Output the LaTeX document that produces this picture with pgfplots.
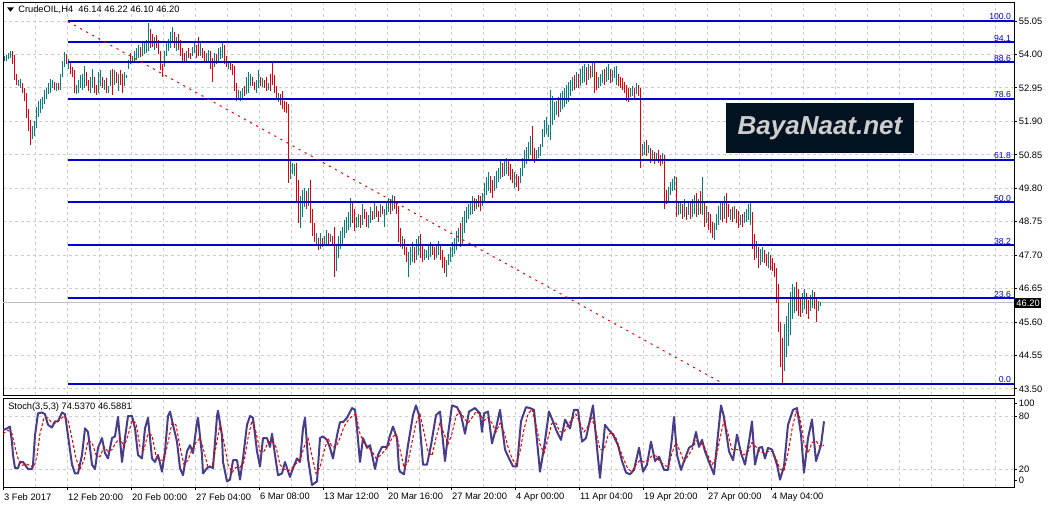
\documentclass[border=0pt]{standalone}
\usepackage{pgfplots}
\usepackage{pgfplotstable}
\pgfplotsset{compat=1.18}
\usepackage{fontspec}
\setmainfont{Liberation Sans}
\definecolor{bull}{RGB}{0,128,128}
\definecolor{bear}{RGB}{232,0,0}
\definecolor{fib}{RGB}{0,0,205}
\definecolor{gridc}{RGB}{205,205,205}
\definecolor{stochc}{RGB}{72,61,139}
\definecolor{logobg}{RGB}{3,18,32}
\newcommand\tk{\fontsize{7}{8.4}\selectfont}

\pgfplotstableread{
x lo hi c
4 53.78 53.95 1
6 53.80 53.98 1
8 53.85 54.05 1
10 53.90 54.12 1
12 53.70 54.10 0
14 53.20 53.98 0
16 53.05 53.40 0
18 53.00 53.20 1
20 52.95 53.22 1
22 52.80 53.10 0
24 52.55 52.95 0
26 52.00 52.80 0
28 51.60 52.30 0
30 51.16 51.95 0
32 51.35 51.75 1
34 51.45 51.90 1
36 51.70 52.35 1
38 52.05 52.55 1
40 52.15 52.60 1
42 52.30 52.65 1
44 52.45 52.90 1
46 52.60 52.95 1
48 52.75 53.10 1
50 52.80 53.22 1
52 52.95 53.20 1
54 52.90 53.15 0
56 52.85 53.12 1
58 52.90 53.10 0
60 52.88 53.40 1
62 53.30 53.78 1
64 53.60 54.08 1
66 53.70 54.00 0
68 53.55 53.85 1
70 53.40 53.80 0
72 53.30 53.62 0
74 52.80 53.50 0
76 52.75 53.05 1
78 52.80 53.20 1
80 52.95 53.35 1
82 52.90 53.40 1
84 52.95 53.65 1
86 53.00 53.45 0
88 52.85 53.20 0
90 52.80 53.30 1
92 52.95 53.55 1
94 52.80 53.30 0
96 52.72 53.05 0
98 52.80 53.45 1
100 53.00 53.52 1
102 52.95 53.30 0
104 52.90 53.20 1
106 52.80 53.25 0
108 52.78 53.00 1
110 53.00 53.50 1
112 52.72 53.55 0
114 53.05 53.52 1
116 53.10 53.45 0
118 52.85 53.40 1
120 53.05 53.50 0
122 52.80 53.40 0
124 53.00 53.45 1
126 53.25 53.35 1
128 53.55 53.82 1
130 53.70 54.05 0
132 53.75 53.95 1
134 53.80 54.10 1
136 53.85 54.20 1
138 53.90 54.30 1
140 53.92 54.25 0
142 53.95 54.35 1
144 54.00 54.40 1
146 54.05 54.45 1
148 54.10 55.00 1
150 54.20 54.80 0
152 54.25 54.65 0
154 54.15 54.55 1
156 54.20 54.60 0
158 54.00 54.45 0
160 53.50 54.10 0
162 53.28 53.70 0
164 53.60 54.10 1
166 53.95 54.40 1
168 54.10 54.50 1
170 54.20 54.70 1
172 54.35 54.86 1
174 54.20 54.70 0
176 54.10 54.55 1
178 54.15 54.65 0
180 53.95 54.45 0
182 53.80 54.20 0
184 53.75 54.05 0
186 53.80 54.10 1
188 53.90 54.20 0
190 53.85 54.05 0
192 53.95 54.25 1
194 54.05 54.35 1
196 53.90 54.30 0
198 53.95 54.55 0
200 53.95 54.40 1
202 53.90 54.20 0
204 53.80 54.10 0
206 53.75 54.05 1
208 53.80 54.15 1
210 53.55 54.10 0
212 53.14 53.90 0
214 53.60 54.05 1
216 53.70 54.00 0
218 53.75 54.20 1
220 53.85 54.25 1
222 53.90 54.39 1
224 53.70 54.30 0
226 53.60 53.95 0
228 53.55 53.80 1
230 53.50 53.75 0
232 53.35 53.70 0
234 52.85 53.65 0
236 52.55 53.10 0
238 52.60 52.90 1
240 52.55 52.85 1
242 52.60 52.95 1
244 52.70 53.00 0
246 52.75 53.30 1
248 52.80 53.45 1
250 53.00 53.40 1
252 53.00 53.30 0
254 52.90 53.15 0
256 52.80 53.20 1
258 52.95 53.50 1
260 53.00 53.30 0
262 52.98 53.25 1
264 52.95 53.20 0
266 52.85 53.30 0
268 52.90 53.10 1
270 52.85 53.40 0
272 53.05 53.75 0
274 52.80 53.35 0
276 52.60 53.00 0
278 52.50 52.80 1
280 52.40 52.75 0
282 52.30 52.85 0
284 52.20 52.55 0
286 52.15 52.50 0
288 49.97 52.45 0
290 50.10 50.70 1
292 50.25 50.60 1
294 50.20 50.55 1
296 49.40 50.60 0
298 48.70 50.05 0
300 48.55 49.55 1
302 48.90 49.75 1
304 49.20 49.80 1
306 49.15 49.70 0
308 49.25 49.80 1
310 48.70 50.05 0
312 48.30 49.15 0
314 48.10 48.70 0
316 48.00 48.40 1
318 47.85 48.25 0
320 47.90 48.40 1
322 47.95 48.25 0
324 48.00 48.30 1
326 47.98 48.50 1
328 48.05 48.40 0
330 48.10 48.35 1
332 48.05 48.30 0
334 47.00 48.60 0
336 47.20 48.05 1
338 47.60 48.30 1
340 47.90 48.45 1
342 48.05 48.60 1
344 48.25 48.80 1
346 48.40 48.90 1
348 48.50 49.05 1
350 48.60 49.50 1
352 48.70 49.40 0
354 48.45 49.15 0
356 48.55 48.90 1
358 48.60 49.00 1
360 48.55 48.95 0
362 48.65 49.30 1
364 48.85 49.15 0
366 48.60 49.05 0
368 48.55 48.95 1
370 48.70 49.20 1
372 48.80 49.10 0
374 48.85 49.35 1
376 48.90 49.25 0
378 48.75 49.10 0
380 48.90 49.30 1
382 49.00 49.25 0
384 48.60 49.15 1
386 48.95 49.35 1
388 49.05 49.50 1
390 49.00 49.45 0
392 49.10 49.60 1
394 49.15 49.55 0
396 49.00 49.40 0
398 48.12 49.25 0
400 47.95 48.55 0
402 47.90 48.30 1
404 47.70 48.20 0
406 47.50 47.95 0
408 47.00 47.80 1
410 47.40 47.95 1
412 47.50 48.10 1
414 47.45 47.95 0
416 47.55 48.20 1
418 47.70 48.30 1
420 47.60 48.35 0
422 47.50 48.05 0
424 47.55 47.90 1
426 47.60 47.85 1
428 47.55 48.00 1
430 47.65 48.10 1
432 47.70 48.05 0
434 47.55 47.95 0
436 47.60 48.00 1
438 47.70 48.15 1
440 47.55 48.05 0
442 47.30 47.85 0
444 47.15 47.65 0
446 47.01 47.55 1
448 47.40 47.75 1
450 47.50 47.95 1
452 47.65 48.10 1
454 47.75 48.25 1
456 47.85 48.45 1
458 48.10 48.55 1
460 47.95 48.70 0
462 48.05 48.90 1
464 48.40 49.10 1
466 48.70 49.20 1
468 48.85 49.30 1
470 48.95 49.40 1
472 49.00 49.55 1
474 49.10 49.50 0
476 49.15 49.45 1
478 49.20 49.60 0
480 49.10 49.55 0
482 49.25 49.65 1
484 49.40 49.95 1
486 49.60 50.15 1
488 49.70 50.30 1
490 49.65 50.20 0
492 49.50 50.05 0
494 49.70 50.20 1
496 49.80 50.35 1
498 50.00 50.45 1
500 50.10 50.65 1
502 50.15 50.60 0
504 50.20 50.70 1
506 50.25 50.75 1
508 50.20 50.70 0
510 50.05 50.55 0
512 49.95 50.40 0
514 49.80 50.30 1
516 49.85 50.25 0
518 49.70 50.20 0
520 49.95 50.45 1
522 50.20 50.75 1
524 50.45 51.00 1
526 50.55 51.10 1
528 50.70 51.25 1
530 50.85 51.45 1
532 50.70 51.75 0
534 50.60 51.05 0
536 50.70 51.00 1
538 50.75 51.10 1
540 50.80 51.20 1
542 51.10 51.65 1
544 51.40 51.95 1
546 51.50 52.05 1
548 51.40 51.80 1
550 51.30 52.90 1
552 51.80 52.70 1
554 51.95 52.50 1
556 52.10 52.55 1
558 52.05 52.65 0
560 52.20 52.80 1
562 52.30 52.85 1
564 52.35 52.95 1
566 52.45 53.05 1
568 52.50 53.15 1
570 52.70 53.20 1
572 52.85 53.30 1
574 52.90 53.35 0
576 52.95 53.45 1
578 52.95 53.40 0
580 53.00 53.55 1
582 53.10 53.65 1
584 53.15 53.70 1
586 53.05 53.60 0
588 53.20 53.70 1
590 53.25 53.65 0
592 53.30 53.75 1
594 52.80 53.76 0
596 52.90 53.45 0
598 52.95 53.30 1
600 53.00 53.40 1
602 53.10 53.50 1
604 53.05 53.55 0
606 53.15 53.60 1
608 53.20 53.70 1
610 53.10 53.55 0
612 53.15 53.50 1
614 53.25 53.60 1
616 53.05 53.64 1
618 53.00 53.40 0
620 52.95 53.30 0
622 52.90 53.25 0
624 52.80 53.15 0
626 52.55 53.05 0
628 52.50 52.95 0
630 52.65 52.95 1
632 52.70 53.00 1
634 52.60 52.95 0
636 52.75 53.10 1
638 52.70 53.05 0
640 50.45 52.95 0
642 50.80 51.20 1
644 50.85 51.25 1
646 50.80 51.30 0
648 50.90 51.15 1
650 50.60 51.05 0
652 50.70 51.00 1
654 50.55 50.95 0
656 50.65 50.90 1
658 50.60 51.00 0
660 50.50 50.85 0
662 50.55 50.90 1
664 49.15 50.85 0
666 49.30 49.75 0
668 49.40 49.85 1
670 49.60 50.00 1
672 49.70 50.10 1
674 49.75 50.20 1
676 48.90 50.15 0
678 48.95 49.35 1
680 49.00 49.40 1
682 48.85 49.30 0
684 48.90 49.45 1
686 48.80 49.20 0
688 48.95 49.40 1
690 48.85 49.35 0
692 48.90 49.45 1
694 49.00 49.60 1
696 48.90 49.65 0
698 48.95 49.45 1
700 49.00 49.70 0
702 48.95 50.15 1
704 48.60 49.35 0
706 48.70 49.25 1
708 48.50 49.05 0
710 48.40 49.00 0
712 48.25 48.75 0
714 48.18 48.70 1
716 48.50 49.00 1
718 48.65 49.25 1
720 48.80 49.35 1
722 48.75 49.40 0
724 48.85 49.55 1
726 48.70 49.66 0
728 48.90 49.30 0
730 48.80 49.15 1
732 48.75 49.20 0
734 48.85 49.25 1
736 48.70 49.15 0
738 48.55 49.10 0
740 48.65 48.95 1
742 48.60 49.00 0
744 48.70 49.05 1
746 48.75 49.15 1
748 48.80 49.30 1
750 48.65 49.35 1
752 47.90 49.05 0
754 47.55 48.35 0
756 47.60 48.15 1
758 47.30 47.95 0
760 47.40 47.90 1
762 47.50 47.95 1
764 47.45 47.85 0
766 47.35 47.75 0
768 47.30 47.80 1
770 47.25 47.70 0
772 47.20 47.60 0
774 47.01 47.45 0
776 46.20 47.30 0
778 45.30 46.80 0
780 44.20 45.60 0
782 43.66 45.10 0
784 44.05 45.55 1
786 44.50 45.80 1
788 44.85 46.20 1
790 45.20 46.55 1
792 45.70 46.80 1
794 45.90 46.70 1
796 45.95 46.85 0
798 45.80 46.65 0
800 45.75 46.40 0
802 45.90 46.50 1
804 46.00 46.65 1
806 45.85 46.50 0
808 45.70 46.30 0
810 45.95 46.45 1
812 46.05 46.60 1
814 46.00 46.55 0
816 45.60 46.35 0
818 45.95 46.25 1
820 46.10 46.22 1
}\bars

\begin{document}
\begin{tikzpicture}
\path[use as bounding box, fill=white] (0,0) rectangle (789.75pt,381pt);

% ---------------- main price panel ----------------
\begin{axis}[
  at={(2.25pt,84.75pt)}, anchor=south west,
  scale only axis, width=758.25pt, height=294.75pt,
  xmin=3, xmax=1014, ymin=43.311, ymax=55.647,
  clip=false,
  axis line style={black, line width=0.75pt},
  xtick={3,35,...,995}, xticklabels={},
  x tick style={draw=none},
  ytick={43.50,44.55,45.60,46.65,47.70,48.75,49.80,50.85,51.90,52.95,54.00,55.05},
  yticklabels={43.50,44.55,45.60,46.65,47.70,48.75,49.80,50.85,51.90,52.95,54.00,55.05},
  ytick pos=right, yticklabel pos=right,
  tick align=outside, major tick length=2.25pt,
  y tick style={black, line width=0.75pt},
  yticklabel style={font=\tk, inner sep=0pt, anchor=west, xshift=1.2pt},
  grid=major,
  major grid style={gridc, line width=0.75pt, dash pattern=on 2.25pt off 2.25pt},
]
% bid line
\addplot[color={rgb,255:red,192;green,192;blue,192}, line width=0.75pt] coordinates {(3,46.20) (1014,46.20)};
% bars
\addplot[bear, only marks, mark=*, mark size=0pt, mark options={draw=none, fill=none},
  restrict expr to domain={\thisrow{c}}{0:0},
  error bars/.cd, y dir=plus, y explicit, error mark=none,
  error bar style={bear, line width=0.75pt}]
  table[x=x, y=lo, y error plus expr=\thisrow{hi}-\thisrow{lo}] {\bars};
\addplot[bull, only marks, mark=*, mark size=0pt, mark options={draw=none, fill=none},
  restrict expr to domain={\thisrow{c}}{1:1},
  error bars/.cd, y dir=plus, y explicit, error mark=none,
  error bar style={bull, line width=0.75pt}]
  table[x=x, y=lo, y error plus expr=\thisrow{hi}-\thisrow{lo}] {\bars};
% fibonacci levels
\foreach \lev/\lab in {55.05/100.0, 54.378/94.1, 53.752/88.6, 52.613/78.6, 50.699/61.8, 49.355/50.0, 48.011/38.2, 46.348/23.6, 43.66/0.0}{
  \edef\tmp{\noexpand\addplot[fib, line width=1.5pt] coordinates {(68,\lev) (1014,\lev)};
   \noexpand\node[fib, font=\noexpand\fontsize{6.5}{7}\noexpand\selectfont, anchor=south east, inner sep=0.6pt] at (axis cs:1012,\lev) {\lab};}
  \tmp
}
% diagonal trend line
\addplot[bear, line width=0.75pt, dash pattern=on 1.6pt off 3.6pt] coordinates {(68,55.03) (722,43.69)};
% current price box
\node[fill=black, text=white, font=\tk, anchor=west, inner xsep=1.2pt, inner ysep=1.6pt] at (axis cs:1014.5,46.20) {46.20};
\end{axis}

% ---------------- stochastic panel ----------------
\begin{axis}[
  at={(2.25pt,15.75pt)}, anchor=south west,
  scale only axis, width=758.25pt, height=66.75pt,
  xmin=3, xmax=1014, ymin=-0.34, ymax=100.4,
  clip=true,
  axis line style={black, line width=0.75pt},
  xtick={3,67,131,195,259,323,387,451,515,579,643,707,771},
  xticklabels={3 Feb 2017,12 Feb 20:00,20 Feb 00:00,27 Feb 04:00,6 Mar 08:00,13 Mar 12:00,20 Mar 16:00,27 Mar 20:00,4 Apr 00:00,11 Apr 04:00,19 Apr 20:00,27 Apr 00:00,4 May 04:00},
  xtick pos=bottom,
  extra x ticks={35,99,163,227,291,355,419,483,547,611,675,739,803,835,867,899,931,963,995},
  extra x tick labels={},
  extra x tick style={major tick length=0pt},
  xticklabel style={font=\tk, anchor=north west, inner sep=0pt, xshift=0.6pt, yshift=-2.4pt},
  ytick={20,80}, yticklabels={20,80},
  extra y ticks={6.7,94.4}, extra y tick labels={0,100},
  extra y tick style={grid=none},
  ytick pos=right, yticklabel pos=right,
  tick align=outside, major tick length=2.25pt,
  tick style={black, line width=0.75pt},
  yticklabel style={font=\tk, inner sep=0pt, anchor=west, xshift=1.2pt},
  grid=major,
  major grid style={gridc, line width=0.75pt, dash pattern=on 2.25pt off 2.25pt},
]
\addplot[stochc, line width=1.5pt, line join=round] coordinates {
(3,64) (7,66) (10,68) (12,50) (13,36) (15,21) (18,21) (20,28) (23,28) (25,25) (28,20) (32,20) (33,25) (35,58) (38,83) (42,84) (45,82) (48,70) (52,67) (55,74) (58,74) (62,84) (65,82) (68,58) (72,25) (75,15) (78,15) (82,36) (85,66) (88,62) (92,25) (95,20) (98,44) (102,55) (105,38) (108,32) (112,55) (115,57) (118,79) (122,28) (125,55) (128,80) (132,80) (135,66) (138,36) (142,32) (145,66) (148,78) (152,32) (155,28) (158,36) (162,17) (165,40) (168,80) (170,85) (173,70) (177,51) (180,21) (183,13) (187,40) (190,47) (193,38) (197,73) (198,78) (202,36) (203,15) (207,21) (210,23) (213,21) (217,80) (218,86) (222,58) (223,28) (227,6) (230,8) (233,30) (237,30) (240,8) (243,32) (247,70) (250,80) (253,78) (257,40) (260,23) (263,55) (267,55) (270,45) (272,60) (275,36) (278,13) (282,15) (285,28) (290,11) (293,21) (297,32) (300,28) (303,66) (305,78) (308,32) (312,2) (317,6) (320,55) (323,57) (327,53) (330,44) (333,32) (337,58) (340,73) (343,73) (347,78) (352,89) (355,87) (357,66) (360,28) (363,55) (367,44) (370,47) (375,20) (378,36) (382,45) (387,45) (390,58) (393,68) (397,55) (399,20)
(400,17) (404,14) (408,47) (413,81) (416,92) (419,81) (423,25) (427,25) (431,47) (436,81) (440,85) (442,62) (445,29) (448,59) (452,92) (457,90) (461,81) (465,60) (469,85) (475,89) (480,83) (482,62) (484,83) (488,85) (492,49) (496,66) (500,87) (505,42) (509,32) (513,23) (517,23) (521,74) (526,90) (530,89) (534,87) (540,17) (544,44) (549,85) (553,74) (557,62) (561,53) (565,76) (570,66) (574,87) (578,87) (582,51) (586,55) (593,92) (597,44) (600,10) (605,70) (609,64) (613,59) (618,47) (622,29) (626,16) (630,14) (634,19) (639,44) (643,17) (647,25) (651,51) (655,29) (659,34) (664,19) (668,19) (672,55) (674,79) (677,36) (681,19) (685,32) (689,44) (693,47) (696,62) (699,45) (702,53) (705,40) (710,25) (714,14) (718,59) (721,92) (724,79) (729,40) (733,30) (737,59) (741,38) (745,25) (749,51) (752,74) (755,25) (759,44) (762,45) (765,32) (768,44) (772,42) (777,25) (780,8) (784,23) (788,70) (793,87) (797,89) (801,59) (804,16) (808,55) (812,76) (816,29) (821,47) (824,74)
};
\addplot[bear, line width=0.75pt, dash pattern=on 2.25pt off 1.5pt] coordinates {
(3,60) (8,64) (12,60) (15,45) (18,32) (22,24) (26,26) (30,24) (34,22) (37,35) (40,60) (44,78) (48,78) (52,72) (56,72) (60,76) (64,80) (68,75) (72,55) (76,32) (80,20) (84,30) (88,52) (92,50) (96,36) (100,34) (104,45) (108,40) (112,42) (116,50) (120,55) (124,45) (128,58) (132,75) (136,72) (140,45) (144,42) (148,60) (152,58) (156,35) (160,30) (164,30) (168,50) (172,72) (176,70) (180,45) (184,25) (188,30) (192,42) (196,50) (200,55) (204,40) (208,22) (212,22) (216,45) (220,70) (224,50) (228,25) (232,16) (236,22) (240,22) (244,28) (248,55) (252,75) (256,62) (260,40) (264,40) (268,50) (272,52) (276,45) (280,25) (284,20) (288,18) (292,20) (296,26) (300,30) (304,45) (308,55) (312,35) (316,15) (320,22) (324,40) (328,55) (332,45) (336,45) (340,55) (344,68) (348,75) (352,80) (356,82) (360,60) (364,50) (368,45) (372,40) (376,32) (380,35) (384,40) (388,45) (392,55) (396,60) (400,42) (404,22) (408,28) (412,50) (416,72) (420,82) (424,62) (428,40) (432,35) (436,55) (440,72) (444,60) (448,48) (452,60) (456,80) (460,85) (464,78) (468,72) (472,78) (476,85) (480,82) (484,75) (488,78) (492,72) (496,62) (500,72) (504,62) (508,45) (512,32) (516,25) (520,40) (524,65) (528,82) (532,88) (536,70) (540,48) (544,38) (548,55) (552,72) (556,72) (560,62) (564,62) (568,70) (572,76) (576,82) (580,72) (584,62) (588,68) (592,78) (596,62) (600,42) (604,42) (608,58) (612,62) (616,55) (620,42) (624,30) (628,20) (632,17) (636,25) (640,30) (644,28) (648,30) (652,35) (656,35) (660,28) (664,25) (668,22) (672,38) (676,50) (680,40) (684,28) (688,35) (692,42) (696,52) (700,50) (704,46) (708,35) (712,25) (716,32) (720,55) (724,75) (728,60) (732,42) (736,42) (740,42) (744,36) (748,40) (752,50) (756,45) (760,40) (764,38) (768,40) (772,40) (776,32) (780,20) (784,18) (788,38) (792,65) (796,85) (800,78) (804,50) (808,38) (812,50) (816,52) (820,45) (824,47)
};
\end{axis}

% titles
\fill[black] (5.25pt,375.5pt) -- (10.5pt,375.5pt) -- (7.875pt,372.2pt) -- cycle;
\node[anchor=west, inner sep=0pt, font=\tk] at (13.5pt,373.5pt) {CrudeOIL,H4\ \ 46.14 46.22 46.10 46.20};
\node[anchor=west, inner sep=0pt, font=\tk] at (6pt,75.75pt) {Stoch(3,5,3) 74.5370 46.5881};
% logo
\node[fill=logobg, minimum width=141pt, minimum height=37.5pt, inner sep=0pt,
      text={rgb,255:red,205;green,205;blue,205}, font=\fontsize{19.5}{21}\selectfont\bfseries\itshape]
      at (615pt,285pt) {BayaNaat.net};
\end{tikzpicture}
\end{document}
